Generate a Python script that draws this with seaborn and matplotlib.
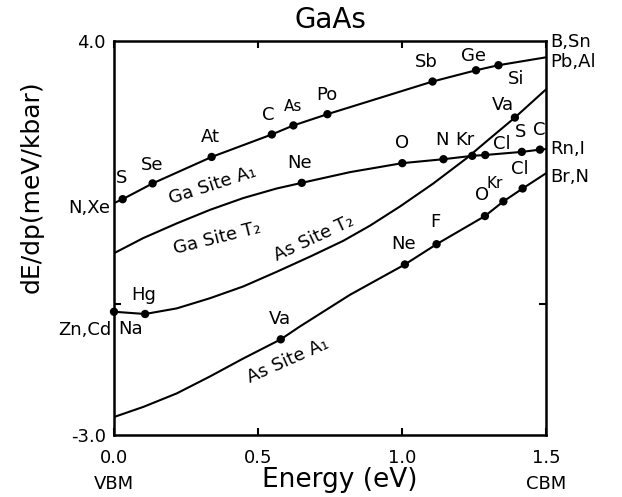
# -*- coding: utf-8 -*-
"""
GaAs deep level pressure coefficients vs energy
"""

import pandas as pd
import seaborn as sns
import matplotlib.pyplot as plt
import numpy as np

#%% data

# Ga site A1 ---------------
ga_a1_x = [0.0, 0.030, 0.134, 0.339, 0.548, 0.623, 0.741, 1.106, 1.257, 1.335, 1.5]
ga_a1_y = [1.12, 1.19, 1.47, 1.94, 2.34, 2.50, 2.70, 3.28, 3.48, 3.57, 3.71]
ga_a1_dot_x = [0.030, 0.134, 0.339, 0.548, 0.623, 0.741, 1.106, 1.257, 1.335]
ga_a1_dot_y = [1.19, 1.47, 1.94, 2.34, 2.50, 2.70, 3.28, 3.48, 3.57]

# Ga site T2 ---------------
ga_t2_x = [0.0, 0.102, 0.218, 0.333, 0.449, 0.565, 0.652, 0.819, 1.001, 1.144, 1.244, 1.289, 1.416, 1.479, 1.5]
ga_t2_y = [0.23, 0.50, 0.76, 1.00, 1.21, 1.38, 1.48, 1.67, 1.83, 1.90, 1.96, 1.975, 2.03, 2.07, 2.08]
ga_t2_dot_x = [0.652, 1.001, 1.144, 1.244, 1.289, 1.416, 1.479]
ga_t2_dot_y = [1.48, 1.83, 1.90, 1.96, 1.975, 2.03, 2.07]

# As site T2 ---------------
as_t2_x = [0.0, 0.108, 0.218, 0.333, 0.449, 0.565, 0.681, 0.796, 0.889, 0.993, 1.109, 1.225, 1.294, 1.392, 1.5]
as_t2_y = [-0.81, -0.85, -0.75, -0.57, -0.36, -0.10, 0.17, 0.45, 0.72, 1.06, 1.47, 1.92, 2.22, 2.64, 3.14]
as_t2_dot_x = [0.0, 0.108, 1.392]
as_t2_dot_y = [-0.81, -0.85, 2.64]

# As site A1 ---------------
as_a1_x = [0.0, 0.102, 0.218, 0.333, 0.449, 0.579, 0.646, 0.819, 1.010, 1.120, 1.288, 1.352, 1.419, 1.5]
as_a1_y = [-2.68, -2.50, -2.26, -1.96, -1.64, -1.30, -1.07, -0.51, 0.03, 0.39, 0.89, 1.15, 1.38, 1.65]
as_a1_dot_x = [0.579, 1.010, 1.120, 1.288, 1.352, 1.419]
as_a1_dot_y = [-1.30, 0.03, 0.39, 0.89, 1.15, 1.38]

# impurity labels inside the frame: (text, E, dE/dp, size)
point_labels = [
    ("S", 0.027, 1.56, 13), ("Se", 0.131, 1.80, 13), ("At", 0.333, 2.30, 13),
    ("C", 0.535, 2.69, 13), ("As", 0.622, 2.83, 11), ("Po", 0.739, 3.04, 13),
    ("Sb", 1.086, 3.63, 13), ("Ge", 1.248, 3.73, 13), ("Si", 1.396, 3.32, 13),
    ("Va", 1.352, 2.86, 13),
    ("Ne", 0.646, 1.83, 13), ("O", 1.001, 2.18, 13), ("N", 1.138, 2.24, 13),
    ("Kr", 1.219, 2.24, 13), ("Cl", 1.346, 2.17, 13), ("S", 1.410, 2.39, 13),
    ("C", 1.477, 2.42, 13),
    ("Hg", 0.102, -0.51, 13), ("Na", 0.056, -1.12, 13),
    ("Va", 0.576, -0.93, 13), ("Ne", 1.004, 0.39, 13), ("F", 1.115, 0.79, 13),
    ("O", 1.277, 1.26, 13), ("Kr", 1.323, 1.47, 11), ("Cl", 1.410, 1.72, 13),
]

# labels outside the frame: (text, E, dE/dp, ha)
edge_labels = [
    ("N,Xe", -0.014, 1.03, "right"), ("Zn,Cd", -0.010, -1.13, "right"),
    ("B,Sn", 1.514, 3.98, "left"), ("Pb,Al", 1.514, 3.63, "left"),
    ("Rn,I", 1.514, 2.08, "left"), ("Br,N", 1.514, 1.59, "left"),
]

# curve names: (text, E, dE/dp, angle)
curve_labels = [
    ("Ga Site A₁", 0.344, 1.44, 18),
    ("Ga Site T₂", 0.357, 0.50, 14),
    ("As Site T₂", 0.694, 0.50, 25),
    ("As Site A₁", 0.604, -1.67, 24),
]

x_ticks = [0.0, 0.5, 1.0, 1.5]
x_tick_labels = ["0.0\nVBM", "0.5", "1.0", "1.5\nCBM"]

#%% plot

sns.set_style("ticks")
plt.rcParams['font.family'] = ['DejaVu Sans']
# alles schwarz wie im Original
for key in ['text.color', 'axes.labelcolor', 'xtick.color', 'ytick.color',
            'axes.edgecolor']:
    plt.rcParams[key] = 'black'

fig = plt.figure(figsize=(6.22, 4.97), dpi=100)
ax = fig.add_axes([0.1833, 0.1247, 0.6945, 0.7928])

curves = [(ga_a1_x, ga_a1_y, ga_a1_dot_x, ga_a1_dot_y),
          (ga_t2_x, ga_t2_y, ga_t2_dot_x, ga_t2_dot_y),
          (as_t2_x, as_t2_y, as_t2_dot_x, as_t2_dot_y),
          (as_a1_x, as_a1_y, as_a1_dot_x, as_a1_dot_y)]

for cx, cy, dx, dy in curves:
    sns.lineplot(x=cx, y=cy, color='black', linewidth=1.5, sort=False,
                 estimator=None, ax=ax)
    sns.scatterplot(x=dx, y=dy, color='black', s=36, edgecolor='none',
                    ax=ax, zorder=3, clip_on=False)

for txt, ex, ey, fs in point_labels:
    ax.text(ex, ey, txt, fontsize=fs, ha='center', va='center')

for txt, ex, ey, ha in edge_labels:
    ax.text(ex, ey, txt, fontsize=13, ha=ha, va='center', clip_on=False)

for txt, ex, ey, ang in curve_labels:
    ax.text(ex, ey, txt, fontsize=13, ha='center', va='center',
            rotation=ang, rotation_mode='anchor')

ax.set_xlim(0, 1.5)
ax.set_ylim(-3.0, 4.0)

ax.set_xticks(x_ticks)
ax.set_xticklabels(x_tick_labels, fontsize=13, linespacing=1.6)
ax.tick_params(axis='x', direction='in', length=5, width=1.5, pad=10,
               top=True)

ax.set_yticks([-3.0, 4.0])
ax.set_yticklabels(["-3.0", "4.0"], fontsize=13)
ax.tick_params(axis='y', which='major', length=0, pad=6)
ax.set_yticks([-0.67], minor=True)
ax.tick_params(axis='y', which='minor', direction='in', length=5, width=1.5,
               right=True)

for sp in ax.spines.values():
    sp.set_linewidth(1.8)

ax.set_xlabel("Energy (eV)", fontsize=19)
ax.xaxis.set_label_coords(0.523, -0.114)
ax.xaxis.label.set_va('center')
ax.set_ylabel("dE/dp(meV/kbar)", fontsize=18)
ax.yaxis.set_label_coords(-0.19, 0.63)
ax.yaxis.label.set_va('center')

fig.text(330 / 622, 1 - 20 / 497, "GaAs", fontsize=20, ha='center', va='center')

plt.savefig("out.png", dpi=100)
plt.close()
